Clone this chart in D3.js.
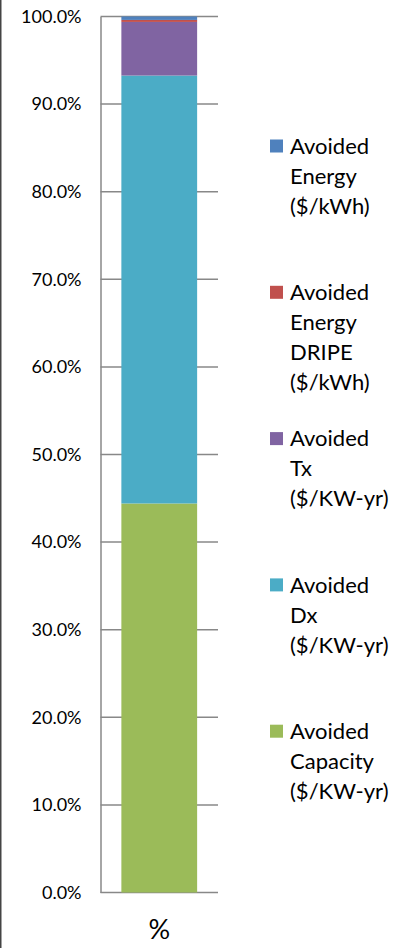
<!DOCTYPE html>
<html><head><meta charset="utf-8">
<script src="https://cdn.jsdelivr.net/npm/d3@7"></script>
<style>html,body{margin:0;padding:0;background:#fff;}svg{display:block;}</style>
</head><body><div id="chart"></div>
<script>
const categories = ["%"];
const seriesKeys = ["capacity", "dx", "tx", "dripe", "energy"];
const seriesValues = {
  capacity: [44.41],
  dx: [48.85],
  tx: [6.12],
  dripe: [0.23],
  energy: [0.39]
};
const seriesColors = {
  capacity: "#9BBB59",
  dx: "#4BACC6",
  tx: "#8064A2",
  dripe: "#C0504D",
  energy: "#4F81BD"
};
const legendOrder = ["energy", "dripe", "tx", "dx", "capacity"];
const legendLabels = {
  energy: ["Avoided", "Energy", "($/kWh)"],
  dripe: ["Avoided", "Energy", "DRIPE", "($/kWh)"],
  tx: ["Avoided", "Tx", "($/KW-yr)"],
  dx: ["Avoided", "Dx", "($/KW-yr)"],
  capacity: ["Avoided", "Capacity", "($/KW-yr)"]
};
const yTicks = [0, 10, 20, 30, 40, 50, 60, 70, 80, 90, 100];

const W = 408, H = 948;
const svg = d3.select("#chart").append("svg").attr("width", W).attr("height", H);
const font = "Lato, 'Open Sans', sans-serif";

// left border
svg.append("line").attr("x1", 0.75).attr("x2", 0.75).attr("y1", 0).attr("y2", H)
  .attr("stroke", "#444").attr("stroke-width", 1.5);

const plotLeft = 100.5, plotRight = 218, plotTop = 16.5, plotBottom = 892.5;
const y = d3.scaleLinear().domain([0, 100]).range([plotBottom, plotTop]);
const x = d3.scaleBand().domain(categories).range([plotLeft, plotRight]).padding(0.216);

// gridlines
svg.append("g").selectAll("line").data(yTicks).join("line")
  .attr("x1", plotLeft).attr("x2", plotRight)
  .attr("y1", d => y(d)).attr("y2", d => y(d))
  .attr("stroke", "#888").attr("stroke-width", 1.5);

// stacked bars
const rows = categories.map((c, i) => {
  const r = { cat: c };
  seriesKeys.forEach(k => r[k] = seriesValues[k][i]);
  return r;
});
const stack = d3.stack().keys(seriesKeys)(rows);
svg.append("g").selectAll("g").data(stack).join("g")
  .attr("fill", d => seriesColors[d.key])
  .selectAll("rect").data(d => d).join("rect")
  .attr("x", d => x(d.data.cat))
  .attr("width", x.bandwidth())
  .attr("y", d => y(d[1]))
  .attr("height", d => y(d[0]) - y(d[1]));

// y axis
const yAxis = d3.axisLeft(y).tickValues(yTicks).tickSize(0).tickPadding(19)
  .tickFormat(d => d3.format(".1f")(d) + "%");
const ga = svg.append("g").attr("transform", `translate(${plotLeft},0)`).call(yAxis);
ga.select(".domain").attr("stroke", "#888").attr("stroke-width", 1.5);
ga.selectAll("text").attr("font-family", font).attr("font-size", 18).attr("fill", "#000");

// x axis
const xAxis = d3.axisBottom(x).tickSize(0).tickPadding(27);
const gx = svg.append("g").attr("transform", `translate(0,${plotBottom})`).call(xAxis);
gx.select(".domain").remove();
gx.selectAll("text").attr("font-family", font).attr("font-size", 27).attr("fill", "#000");

// legend
const lg = svg.append("g");
legendOrder.forEach((k, i) => {
  const cy = 146 + i * 146.3;
  lg.append("rect").attr("x", 270).attr("y", cy - 6.5).attr("width", 13).attr("height", 13)
    .attr("fill", seriesColors[k]);
  const t = lg.append("text").attr("font-family", font).attr("font-size", 22).attr("fill", "#000");
  legendLabels[k].forEach((line, j) => {
    t.append("tspan").attr("x", 290).attr("y", cy + j * 30).attr("dy", "0.35em").text(line);
  });
});
</script></body></html>
